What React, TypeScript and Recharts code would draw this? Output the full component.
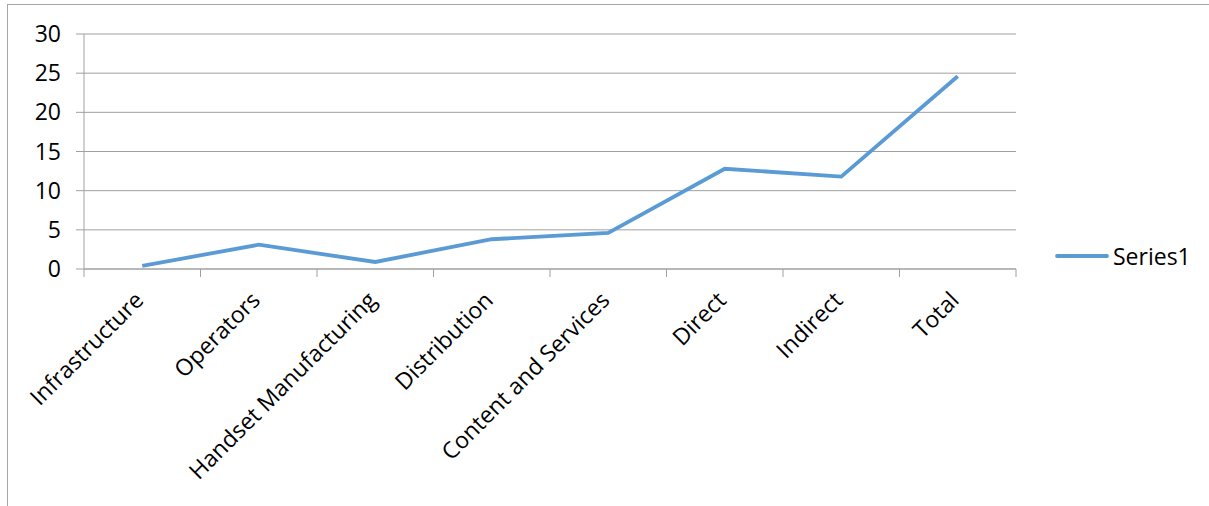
import { LineChart, Line, XAxis, YAxis, CartesianGrid } from 'recharts';

const categories = [
  'Infrastructure',
  'Operators',
  'Handset Manufacturing',
  'Distribution',
  'Content and Services',
  'Direct',
  'Indirect',
  'Total',
];
const series1 = [0.4, 3.1, 0.9, 3.8, 4.6, 12.8, 11.8, 24.6];
const yTicks = [0, 5, 10, 15, 20, 25, 30];
const seriesName = 'Series1';

const LINE_COLOR = '#5b9bd5';
const GRID_COLOR = '#a0a0a0';
const FONT = '"Open Sans", sans-serif';

// category i sits in the middle of slot [i, i+1] on a numeric axis so tick marks fall between categories
const data = categories.map((name, i) => ({ pos: i + 0.5, name, [seriesName]: series1[i] }));
const xTicks: number[] = [];
for (let i = 0; i <= categories.length * 2; i++) xTicks.push(i / 2);

const XTick = (props: any) => {
  const { x, y, payload } = props;
  const v = payload.value as number;
  if (Number.isInteger(v)) {
    return <line x1={x} x2={x} y1={y - 8} y2={y} stroke={GRID_COLOR} strokeWidth={1} />;
  }
  const label = categories[Math.floor(v)];
  const ax = x - 3;
  const ay = y + 19;
  return (
    <text
      x={ax}
      y={ay}
      transform={`rotate(-45, ${ax}, ${ay})`}
      textAnchor="end"
      dy="0.35em"
      fill="#000"
      fontSize={23}
      fontFamily={FONT}
    >
      {label}
    </text>
  );
};

export default function App() {
  return (
    <div style={{ position: 'absolute', left: 0, top: 0, width: 1209, height: 506, background: '#fff' }}>
      <div
        style={{
          position: 'absolute',
          left: 7,
          top: 4,
          width: 1202,
          height: 502,
          borderTop: '1px solid #a6a6a6',
          borderLeft: '1px solid #a6a6a6',
          boxSizing: 'border-box',
        }}
      />
      <LineChart
        width={1209}
        height={506}
        data={data}
        margin={{ top: 34, right: 193, left: 24, bottom: 37 }}
        style={{ position: 'absolute', left: 0, top: 0 }}
      >
        <CartesianGrid vertical={false} stroke={GRID_COLOR} />
        <XAxis
          dataKey="pos"
          type="number"
          domain={[0, categories.length]}
          ticks={xTicks}
          interval={0}
          tickLine={false}
          tickSize={8}
          tickMargin={0}
          axisLine={{ stroke: GRID_COLOR }}
          height={200}
          tick={<XTick />}
        />
        <YAxis
          domain={[0, 30]}
          ticks={yTicks}
          interval={0}
          width={60}
          tickSize={8}
          tickMargin={15}
          tickLine={{ stroke: GRID_COLOR }}
          axisLine={{ stroke: GRID_COLOR }}
          tick={{ fill: '#000', fontSize: 23, fontFamily: FONT }}
        />
        <Line
          type="linear"
          dataKey={seriesName}
          stroke={LINE_COLOR}
          strokeWidth={3.8}
          dot={false}
          activeDot={false}
          isAnimationActive={false}
        />
      </LineChart>
      <div
        style={{
          position: 'absolute',
          left: 1055,
          top: 240,
          display: 'flex',
          alignItems: 'center',
          fontFamily: FONT,
          fontSize: 23,
          color: '#000',
        }}
      >
        <svg width={54} height={6} style={{ marginRight: 4 }}>
          <line x1={2} x2={52} y1={3} y2={3} stroke={LINE_COLOR} strokeWidth={3.8} strokeLinecap="round" />
        </svg>
        <span>{seriesName}</span>
      </div>
    </div>
  );
}
